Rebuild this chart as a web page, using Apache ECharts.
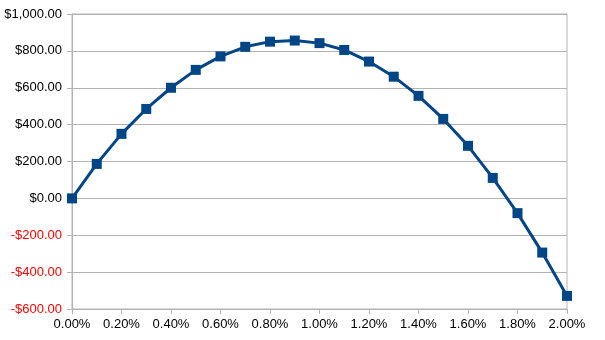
<!DOCTYPE html>
<html><head><meta charset="utf-8">
<script src="https://cdn.jsdelivr.net/npm/echarts@6/dist/echarts.min.js"></script>
<style>html,body{margin:0;padding:0;background:#fff}#c{width:605px;height:340px}</style>
</head><body><div id="c"></div>
<script>
const rates = [0,0.001,0.002,0.003,0.004,0.005,0.006,0.007,0.008,0.009,0.010,0.011,0.012,0.013,0.014,0.015,0.016,0.017,0.018,0.019,0.020];
const values = [0,187,350,485,600,697,770,822,850,856,842,805,742,660,556,431,285,111,-80,-294,-529];
const yMin = -600, yMax = 1000, yStep = 200;
const xMin = 0, xMax = 0.02, xStep = 0.002;

function money(v){
  const s = Math.abs(v).toLocaleString('en-US',{minimumFractionDigits:2,maximumFractionDigits:2});
  return (v<0?'-$':'$')+s;
}
const chart = echarts.init(document.getElementById('c'));
chart.setOption({
  animation:false,
  grid:{left:72,right:38,top:14,bottom:31,containLabel:false,outerBoundsMode:'none',
    show:true,borderColor:'#b3b3b3',borderWidth:1,backgroundColor:'transparent'},
  xAxis:{type:'value',min:xMin,max:xMax,interval:xStep,
    axisLine:{show:true,onZero:false,lineStyle:{color:'#b3b3b3',width:1}},
    axisTick:{show:true,length:5,inside:false,lineStyle:{color:'#b3b3b3'}},
    splitLine:{show:false},
    axisLabel:{margin:9,color:'#000',fontFamily:'Liberation Sans',fontSize:13,
      formatter:v=>(v*100).toFixed(2)+'%'}},
  yAxis:{type:'value',min:yMin,max:yMax,interval:yStep,
    axisLine:{show:true,onZero:false,lineStyle:{color:'#b3b3b3',width:1}},
    axisTick:{show:true,length:5,lineStyle:{color:'#b3b3b3'}},
    splitLine:{show:true,lineStyle:{color:'#b3b3b3',width:1}},
    axisLabel:{margin:10,fontFamily:'Liberation Sans',fontSize:13,
      formatter:v=>money(v),
      color:(v)=>Number(v)<0?'#ff0000':'#000'}},
  series:[{type:'line',data:rates.map((r,i)=>[r,values[i]]),
    symbol:'rect',symbolSize:10,
    lineStyle:{color:'#004586',width:3},
    itemStyle:{color:'#004586'}}]
});
</script></body></html>
